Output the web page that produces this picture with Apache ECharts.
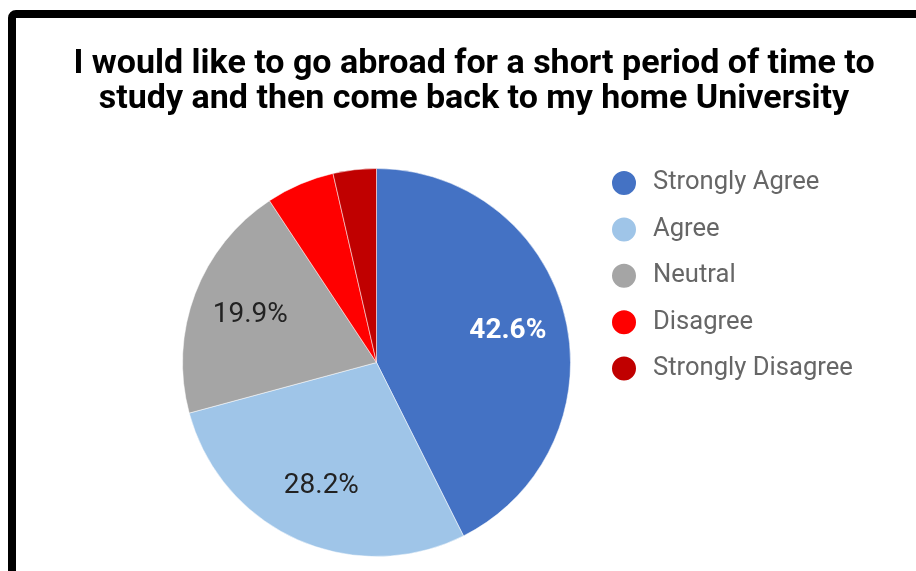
<!DOCTYPE html>
<html>
<head>
<meta charset="utf-8">
<script src="https://cdn.jsdelivr.net/npm/echarts@6/dist/echarts.min.js"></script>
<style>
html,body{margin:0;padding:0;background:#fff;}
#chart{width:916px;height:571px;}
</style>
</head>
<body>
<div id="chart"></div>
<script>
const titleText = "I would like to go abroad for a short period of time to\nstudy and then come back to my home University";
const categories = ["Strongly Agree", "Agree", "Neutral", "Disagree", "Strongly Disagree"];
const values = [42.6, 28.2, 19.9, 5.7, 3.6];
const colors = ["#4472c4", "#9fc5e8", "#a5a5a5", "#ff0000", "#c00000"];
const labelColors = ["#ffffff", "#222222", "#222222", "#222222", "#222222"];
const showLabel = [true, true, true, false, false];

const chart = echarts.init(document.getElementById('chart'), null, {renderer: 'canvas'});

const pieData = categories.map((c, i) => ({
  name: c, value: values[i], itemStyle: {color: colors[i]}
}));
const labelData = categories.map((c, i) => ({
  name: c, value: values[i],
  itemStyle: {color: 'rgba(0,0,0,0)'},
  label: {show: showLabel[i], color: labelColors[i], fontWeight: i === 0 ? 'bold' : 'normal'}
}));

chart.setOption({
  animation: false,
  title: {
    text: titleText,
    left: 469, top: 42, textAlign: 'center',
    textStyle: {fontFamily: 'Roboto', fontWeight: 'bold', fontSize: 34, lineHeight: 35, color: '#000'}
  },
  legend: {
    orient: 'vertical', left: 605, top: 164,
    icon: 'circle', itemWidth: 26, itemHeight: 26, itemGap: 18.4,
    data: categories,
    textStyle: {fontFamily: 'Roboto', fontSize: 25.6, lineHeight: 26, color: '#666666', padding: [0, 0, 0, 11]}
  },
  graphic: [{
    type: 'rect', silent: true,
    shape: {x: 12, y: 14, width: 1000, height: 1000, r: 4},
    style: {fill: 'none', stroke: '#000', lineWidth: 8}
  }],
  series: [{
    type: 'pie', center: [376.5, 362.5], radius: [0, 194],
    startAngle: 90, clockwise: true, silent: true,
    label: {show: false}, labelLine: {show: false},
    itemStyle: {borderColor: '#fff', borderWidth: 0.5},
    data: pieData
  }, {
    type: 'pie', center: [376.5, 362.5], radius: [70, 194],
    startAngle: 90, clockwise: true, silent: true,
    label: {position: 'inside', fontFamily: 'Roboto', fontSize: 28, formatter: p => p.value.toFixed(1) + '%'},
    labelLine: {show: false},
    data: labelData
  }]
});
</script>
</body>
</html>
